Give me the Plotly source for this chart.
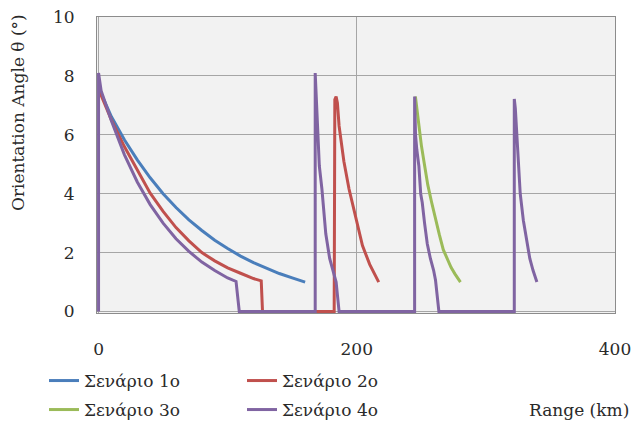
import plotly.graph_objects as go

# Scenario 1 (blue)
s1_x = [1, 10, 20, 30, 40, 50, 60, 70, 80, 90, 100, 110, 120, 130, 140, 150, 160]
s1_y = [7.5, 6.61, 5.83, 5.15, 4.54, 4.0, 3.53, 3.11, 2.75, 2.42, 2.14, 1.88, 1.66, 1.47, 1.29, 1.14, 1.0]

# Scenario 2 (red)
s2_x = [1, 10, 20, 30, 40, 50, 60, 70, 80, 90, 100, 110, 120, 126, 127,
        182.5, 183, 184, 185, 186.3, 190, 194, 200, 204.4, 210, 217]
s2_y = [7.45, 6.5, 5.6, 4.8, 4.02, 3.4, 2.85, 2.4, 2.0, 1.72, 1.48, 1.3, 1.12, 1.04, 0,
        0, 7.2, 7.3, 7.08, 6.3, 5.1, 4.16, 3.0, 2.24, 1.6, 1.0]

# Scenario 3 (green)
s3_x = [245.4, 248, 250, 252, 255, 258, 261, 264, 267, 270, 273, 276, 280.3]
s3_y = [7.3, 6.3, 5.65, 5.1, 4.3, 3.7, 3.1, 2.6, 2.1, 1.8, 1.5, 1.28, 1.0]

# Scenario 4 (purple)
s4_x = [0, 0, 2, 10, 20, 30, 40, 50, 60, 70, 80, 90, 100, 106.5, 109,
        167.8, 167.8, 168.3, 169.5, 171, 173, 176, 179, 182.5, 184, 186.3,
        244.8, 244.8, 245.5, 246.5, 248.1, 249.5, 250.7, 252.5, 254.6, 257, 259.5, 261, 263.6,
        322, 322, 322.8, 324, 325.3, 326.6, 329, 331.8, 334, 336.5, 339.5]
s4_y = [0, 8.1, 7.5, 6.47, 5.33, 4.4, 3.63, 3.0, 2.47, 2.04, 1.68, 1.39, 1.14, 1.02, 0,
        0, 8.1, 7.5, 6.2, 4.94, 4.16, 2.64, 1.8, 1.17, 1.0, 0,
        0, 7.3, 6.0, 5.5, 4.94, 4.0, 3.7, 3.0, 2.3, 1.8, 1.4, 1.06, 0,
        0, 7.22, 6.9, 6.07, 5.28, 4.0, 3.1, 2.3, 1.8, 1.4, 1.0]

names = ["Σενάριο 1ο", "Σενάριο 2ο", "Σενάριο 3ο", "Σενάριο 4ο"]
colors = ["#4A7EBB", "#C0504D", "#9BBB59", "#8064A2"]
xs = [s1_x, s2_x, s3_x, s4_x]
ys = [s1_y, s2_y, s3_y, s4_y]
legends = ["legend", "legend", "legend2", "legend2"]

x_ticks = [0, 200, 400]
y_ticks = [0, 2, 4, 6, 8, 10]

FONT = "DejaVu Serif"
FS = 17
TXT = "#2a2a2a"

fig = go.Figure()
for x, y, n, c, lg in zip(xs, ys, names, colors, legends):
    fig.add_trace(go.Scatter(x=x, y=y, name=n, mode="lines",
                             line=dict(color=c, width=3), legend=lg))

W, H = 638, 426
ML, MR, MT, MB = 97, 23, 17, 113
PW = W - ML - MR
PH = H - MT - MB

def px_to_paper_x(px):
    return (px - ML) / PW

def px_to_paper_y(py):
    return (H - MB - py) / PH

def px_to_cont_x(px):
    return px / W

def px_to_cont_y(py):
    return 1 - py / H

leg_common = dict(orientation="h", xref="container", x=px_to_cont_x(44), xanchor="left",
                  yref="container", yanchor="middle",
                  entrywidth=153, bgcolor="rgba(0,0,0,0)",
                  font=dict(family=FONT, size=FS, color=TXT))

fig.update_layout(
    width=W, height=H,
    margin=dict(l=ML, r=MR, t=MT, b=MB),
    paper_bgcolor="white",
    plot_bgcolor="#F2F2F2",
    font=dict(family=FONT, size=FS, color=TXT),
    showlegend=True,
    legend=dict(y=px_to_cont_y(381), **leg_common),
    legend2=dict(y=px_to_cont_y(410), **leg_common),
    xaxis=dict(range=[-1.2, 400], tickvals=x_ticks, ticktext=[str(v) for v in x_ticks],
               showgrid=True, gridcolor="#A6A6A6", gridwidth=1, zeroline=False,
               showline=True, linecolor="#8C8C8C", linewidth=1, mirror=True,
               ticks="", ticklabelstandoff=21, automargin=False,
               tickfont=dict(family=FONT, size=FS, color=TXT)),
    yaxis=dict(range=[-0.05, 10], tickvals=y_ticks, ticktext=[str(v) for v in y_ticks],
               showgrid=True, gridcolor="#A6A6A6", gridwidth=1, zeroline=False,
               showline=True, linecolor="#8C8C8C", linewidth=1, mirror=True,
               ticks="", ticklabelstandoff=18, automargin=False,
               tickfont=dict(family=FONT, size=FS, color=TXT)),
    annotations=[
        dict(text="Orientation Angle θ (°)", textangle=-90,
             xref="paper", yref="paper", x=px_to_paper_x(18), y=px_to_paper_y(113),
             xanchor="center", yanchor="middle", showarrow=False,
             font=dict(family=FONT, size=FS, color=TXT)),
        dict(text="Range (km)",
             xref="paper", yref="paper", x=px_to_paper_x(579), y=px_to_paper_y(410),
             xanchor="center", yanchor="middle", showarrow=False,
             font=dict(family=FONT, size=FS, color=TXT)),
    ],
)

fig.write_html("out.html")
